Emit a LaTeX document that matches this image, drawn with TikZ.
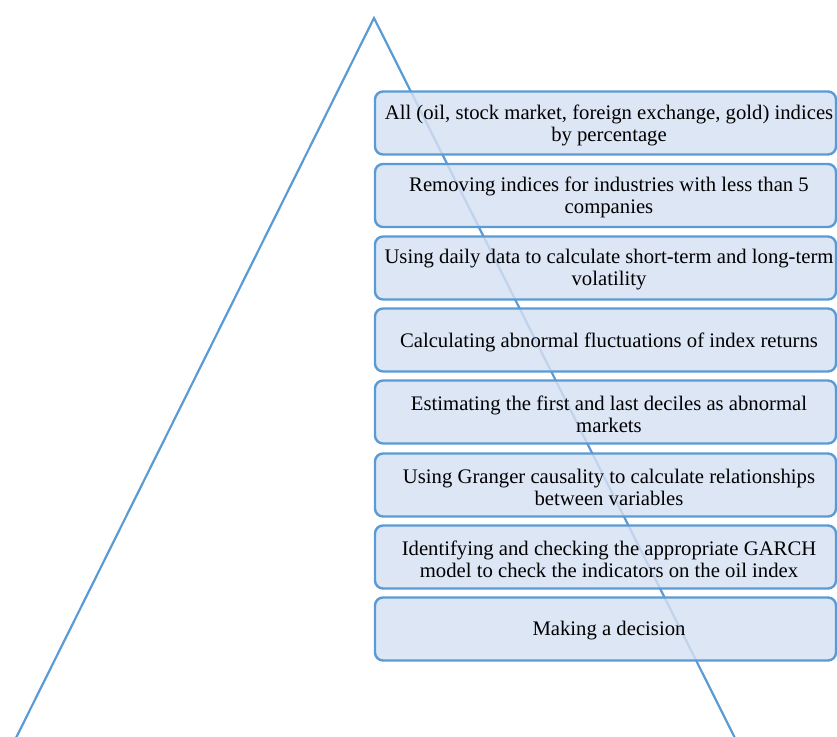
\documentclass[tikz,border=0pt]{standalone}
\usepackage{fontspec}
\setmainfont{Liberation Serif}
\begin{document}
\definecolor{edgeblue}{RGB}{91,155,213}
\definecolor{boxfill}{RGB}{214,224,242}
\begin{tikzpicture}[x=1pt,y=-1pt,
  sideline/.style={draw=edgeblue,line width=2.2pt},
  stepbox/.style={draw=edgeblue,line width=2.4pt,fill=boxfill,fill opacity=0.82,
    rounded corners=8pt,minimum width=461pt,minimum height=63pt,inner sep=0pt},
  steptext/.style={align=center,inner sep=0pt,font=\fontsize{20.7}{22}\selectfont}]
\useasboundingbox (0,0) rectangle (837,736);
\clip (0,0) rectangle (837,736);
% pyramid outline
\coordinate (apex) at (374,18);
\coordinate (baseL) at (8,754);
\coordinate (baseR) at (743,754);
\draw[sideline] (baseL) -- (apex) -- (baseR);
% process steps: box first, then its caption
\node[stepbox] (s1) at (605.5,123) {};
\node[steptext] (t1) at ([shift={(3.5,2)}]s1.center) {All (oil, stock market, foreign exchange, gold) indices\\by percentage};
\node[stepbox] (s2) at (605.5,195.5) {};
\node[steptext] (t2) at ([shift={(3.5,2)}]s2.center) {Removing indices for industries with less than 5\\companies};
\node[stepbox] (s3) at (605.5,268) {};
\node[steptext] (t3) at ([shift={(3.5,2)}]s3.center) {Using daily data to calculate short-term and long-term\\volatility};
\node[stepbox] (s4) at (605.5,340) {};
\node[steptext] (t4) at ([shift={(3.5,2)}]s4.center) {Calculating abnormal fluctuations of index returns};
\node[stepbox] (s5) at (605.5,412) {};
\node[steptext] (t5) at ([shift={(3.5,2)}]s5.center) {Estimating the first and last deciles as abnormal\\markets};
\node[stepbox] (s6) at (605.5,485) {};
\node[steptext] (t6) at ([shift={(3.5,2)}]s6.center) {Using Granger causality to calculate relationships\\between variables};
\node[stepbox] (s7) at (605.5,557) {};
\node[steptext] (t7) at ([shift={(3.5,2)}]s7.center) {Identifying and checking the appropriate GARCH\\model to check the indicators on the oil index};
\node[stepbox] (s8) at (605.5,629) {};
\node[steptext] (t8) at ([shift={(3.5,2)}]s8.center) {Making a decision};
\end{tikzpicture}
\end{document}
